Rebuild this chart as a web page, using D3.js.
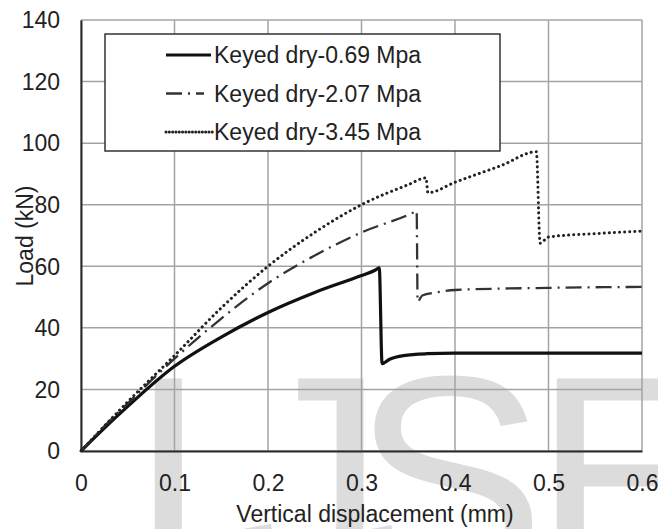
<!DOCTYPE html>
<html>
<head>
<meta charset="utf-8">
<script src="https://cdn.jsdelivr.net/npm/d3@7"></script>
<style>
  body { margin: 0; background: #fff; }
  svg { display: block; font-family: "Liberation Sans", Arial, sans-serif; }
</style>
</head>
<body>
<script>
// canvas size
var width = 658
var height = 529

// x = vertical displacement (mm), y = load (kN)
const x069 = [0, 0.02, 0.05, 0.1, 0.15, 0.2, 0.25, 0.3, 0.315, 0.319, 0.322, 0.33, 0.345, 0.37, 0.4, 0.5, 0.6]
const y069 = [0, 6, 14.5, 27.5, 37, 45, 51.5, 57, 58.8, 59.5, 28.4, 29.8, 31, 31.6, 31.8, 31.8, 31.8]

const x207 = [0, 0.02, 0.05, 0.1, 0.15, 0.2, 0.25, 0.3, 0.355, 0.359, 0.36, 0.365, 0.38, 0.4, 0.5, 0.6]
const y207 = [0, 6.5, 15.5, 30, 43, 54.5, 63.5, 71, 77.4, 78, 48.5, 50.5, 51.5, 52.3, 53, 53.3]

const x345 = [0, 0.02, 0.05, 0.1, 0.15, 0.2, 0.25, 0.3, 0.35, 0.369, 0.371, 0.4, 0.45, 0.487, 0.491, 0.5, 0.55, 0.6]
const y345 = [0, 6.5, 16, 31, 46.5, 60, 71, 80, 86.5, 88.7, 83.9, 87.3, 92.8, 97.2, 67.5, 69.5, 70.6, 71.4]

const seriesNames = ["Keyed dry-0.69 Mpa", "Keyed dry-2.07 Mpa", "Keyed dry-3.45 Mpa"]
const xTicks = [0, 0.1, 0.2, 0.3, 0.4, 0.5, 0.6]
const yTicks = [0, 20, 40, 60, 80, 100, 120, 140]

const svg = d3.select("body").append("svg")
  .attr("width", width)
  .attr("height", height)

var x = d3.scaleLinear().domain([0, 0.6]).range([81, 642])
var y = d3.scaleLinear().domain([0, 140]).range([451, 20])

// watermark letters sit behind everything
var wm = svg.append("g").attr("fill", "#dcdcdc")
  .attr("font-family", "Liberation Sans, Arial, sans-serif")
  .attr("font-size", 290)
;[["I", 128], ["J", 240], ["S", 352], ["E", 533]].forEach(function(l){
  wm.append("text").attr("x", l[1]).attr("y", 578).text(l[0])
})

// grid
svg.append("g").selectAll("line").data(xTicks).enter().append("line")
  .attr("x1", d => x(d)).attr("x2", d => x(d))
  .attr("y1", y(140)).attr("y2", y(0))
  .style("stroke", "#a3a3a3").style("stroke-width", 1.5)
svg.append("g").selectAll("line").data(yTicks).enter().append("line")
  .attr("x1", x(0)).attr("x2", x(0.6))
  .attr("y1", d => y(d)).attr("y2", d => y(d))
  .style("stroke", "#a3a3a3").style("stroke-width", 1.5)

// axes, no tick marks, only labels
var xAxis = svg.append("g").attr("transform", "translate(0," + y(0) + ")")
  .call(d3.axisBottom(x).tickValues(xTicks).tickSize(0).tickPadding(24).tickFormat(d => d === 0 ? "0" : d3.format(".1f")(d)))
var yAxis = svg.append("g").attr("transform", "translate(" + x(0) + ",0)")
  .call(d3.axisLeft(y).tickValues(yTicks).tickSize(0).tickPadding(21))
;[xAxis, yAxis].forEach(function(a){
  a.select(".domain").style("stroke", "#2a2a2a").style("stroke-width", 2)
  a.selectAll("text").attr("font-size", 23).attr("font-family", "Liberation Sans, Arial, sans-serif").attr("fill", "#222")
})
yAxis.selectAll("text").attr("dy", "0.34em")

// axis titles
svg.append("text")
  .attr("x", 375).attr("y", 522)
  .attr("text-anchor", "middle").attr("font-size", 23).attr("fill", "#222")
  .text("Vertical displacement (mm)")
svg.append("text")
  .attr("transform", "translate(33,236) rotate(-90)")
  .attr("text-anchor", "middle").attr("font-size", 23).attr("fill", "#222")
  .text("Load (kN)")

// line styles per series
const styles = [
  {stroke: "#111", width: 3.2, dash: null, cap: "butt"},
  {stroke: "#333", width: 2.3, dash: "16,6,2,6", cap: "butt"},
  {stroke: "#222", width: 3, dash: "0.1,5", cap: "round"}
]
const xs = [x069, x207, x345]
const ys = [y069, y207, y345]

var line = d3.line().curve(d3.curveMonotoneX).x(d => x(d[0])).y(d => y(d[1]))

xs.forEach(function(xv, i){
  var pts = xv.map((d, j) => [d, ys[i][j]])
  svg.append("path")
    .datum(pts)
    .attr("d", line)
    .style("fill", "none")
    .style("stroke", styles[i].stroke)
    .style("stroke-width", styles[i].width)
    .style("stroke-dasharray", styles[i].dash)
    .style("stroke-linecap", styles[i].cap)
    .style("stroke-linejoin", "round")
})

// legend
var legend = svg.append("g")
legend.append("rect")
  .attr("x", 105).attr("y", 34).attr("width", 395).attr("height", 117)
  .style("fill", "#fff").style("stroke", "#333").style("stroke-width", 1.5)

var rows = legend.selectAll("g.row").data(seriesNames).enter().append("g")
  .attr("class", "row")
  .attr("transform", (d, i) => "translate(0," + (55 + i * 38.5) + ")")
rows.append("line")
  .attr("x1", 166).attr("x2", (d, i) => i === 0 ? 211 : 213)
  .attr("y1", 0).attr("y2", 0)
  .style("stroke", (d, i) => styles[i].stroke)
  .style("stroke-width", (d, i) => styles[i].width)
  .style("stroke-dasharray", (d, i) => i === 1 ? "16,6,2,6,8" : (i === 2 ? "0.1,3.2" : null))
  .style("stroke-linecap", (d, i) => styles[i].cap)
rows.append("text")
  .attr("x", 214).attr("y", 0).attr("dy", "0.35em")
  .attr("font-size", 23).attr("fill", "#222")
  .text(d => d)
</script>
</body>
</html>
